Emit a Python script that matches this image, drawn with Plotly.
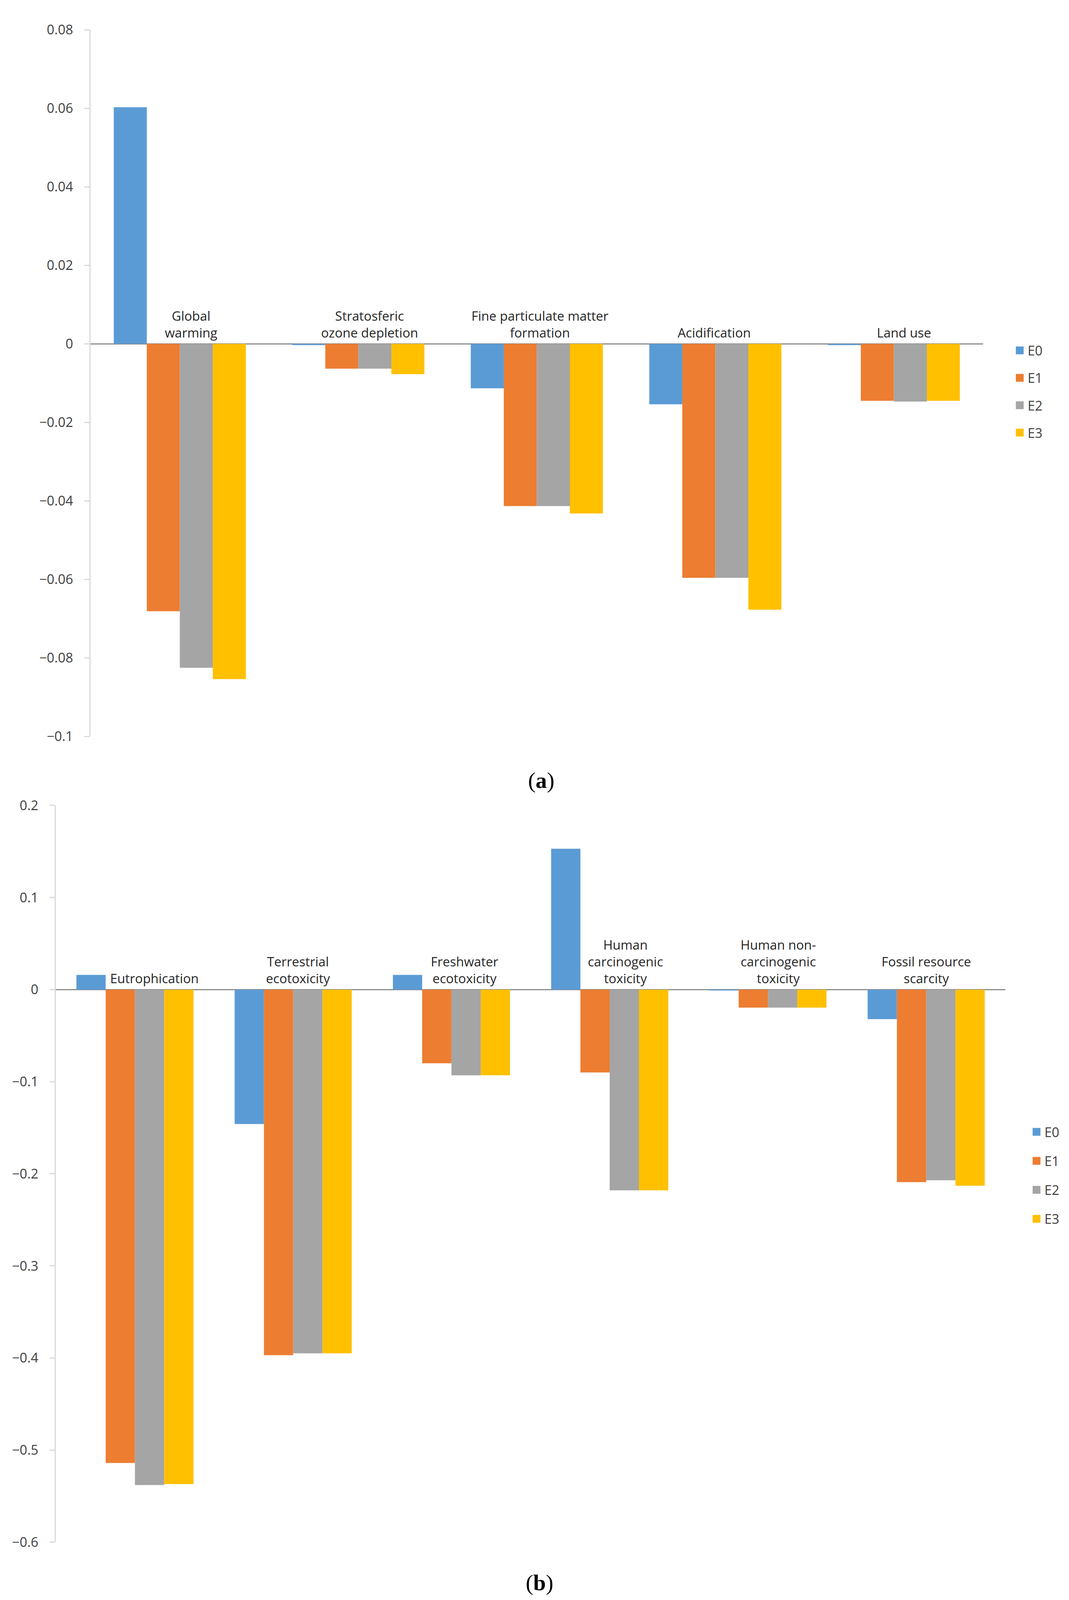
import plotly.graph_objects as go

# panel (a)
cats_a = ["Global<br>warming", "Stratosferic<br>ozone depletion",
          "Fine particulate matter<br>formation", "Acidification", "Land use"]
e0_a = [0.0603, -0.0003, -0.0113, -0.0154, -0.0003]
e1_a = [-0.0681, -0.0063, -0.0413, -0.0596, -0.0145]
e2_a = [-0.0825, -0.0063, -0.0413, -0.0596, -0.0147]
e3_a = [-0.0854, -0.0077, -0.0432, -0.0677, -0.0145]

# panel (b)
cats_b = ["Eutrophication", "Terrestrial<br>ecotoxicity", "Freshwater<br>ecotoxicity",
          "Human<br>carcinogenic<br>toxicity", "Human non-<br>carcinogenic<br>toxicity",
          "Fossil resource<br>scarcity"]
e0_b = [0.016, -0.146, 0.016, 0.153, -0.001, -0.032]
e1_b = [-0.514, -0.397, -0.080, -0.090, -0.0195, -0.209]
e2_b = [-0.538, -0.395, -0.093, -0.218, -0.0195, -0.207]
e3_b = [-0.537, -0.395, -0.093, -0.218, -0.0195, -0.213]

series_names = ["E0", "E1", "E2", "E3"]
colors = ["#5B9BD5", "#ED7D31", "#A5A5A5", "#FFC000"]

FONT = "Open Sans"
TICK_COL = "#404040"
LABEL_COL = "#262626"

# small nudges of the category labels (px), as in the original Excel export
shift_a = [29, 29, 8, -3, 26]
shift_b = [50, 12, 34, 40, 26, 0]

fig = go.Figure()

for name, vals, col in zip(series_names, [e0_a, e1_a, e2_a, e3_a], colors):
    fig.add_trace(go.Bar(x=cats_a, y=vals, name=name, marker=dict(color=col, line=dict(width=0)),
                         xaxis="x", yaxis="y", showlegend=False))
    # legend proxy, so the key squares come out a bit larger than plotly's bar key
    fig.add_trace(go.Scatter(x=[None], y=[None], mode="markers", name=name,
                             marker=dict(symbol="square", size=16, color=col, line=dict(color=col, width=4)),
                             xaxis="x", yaxis="y", legend="legend", legendgroup="a" + name))

for name, vals, col in zip(series_names, [e0_b, e1_b, e2_b, e3_b], colors):
    fig.add_trace(go.Bar(x=cats_b, y=vals, name=name, marker=dict(color=col, line=dict(width=0)),
                         xaxis="x2", yaxis="y2", showlegend=False))
    fig.add_trace(go.Scatter(x=[None], y=[None], mode="markers", name=name,
                             marker=dict(symbol="square", size=16, color=col, line=dict(color=col, width=4)),
                             xaxis="x2", yaxis="y2", legend="legend2", legendgroup="b" + name))

yaxis_style = dict(
    showgrid=False, showline=True, linecolor="#D9D9D9", linewidth=3,
    ticks="outside", ticklen=13, tickwidth=3, tickcolor="#D9D9D9",
    ticklabelstandoff=22,
    zeroline=True, zerolinecolor="#8C8C8C", zerolinewidth=3,
    tickfont=dict(family=FONT, size=34, color=TICK_COL),
)
xaxis_style = dict(showgrid=False, showline=False, showticklabels=False, ticks="", zeroline=False)

legend_style = dict(
    font=dict(family=FONT, size=34, color=TICK_COL),
    traceorder="grouped", bgcolor="rgba(0,0,0,0)",
    itemsizing="trace", xanchor="left", yanchor="top",
)

fig.update_layout(
    width=2737, height=4128,
    margin=dict(l=0, r=0, t=0, b=0),
    paper_bgcolor="white", plot_bgcolor="white",
    barmode="group", bargap=0.26, bargroupgap=0,
    xaxis=dict(domain=[0.0818, 0.9167], anchor="y", **xaxis_style),
    yaxis=dict(domain=[0.5460, 0.9891], anchor="x", range=[-0.1, 0.08], dtick=0.02, **yaxis_style),
    xaxis2=dict(domain=[0.0493, 0.9375], anchor="y2", **xaxis_style),
    yaxis2=dict(domain=[0.0407, 0.5027], anchor="x2", range=[-0.6, 0.2], dtick=0.1, **yaxis_style),
    legend=dict(x=0.9437, y=0.7951, tracegroupgap=23, **legend_style),
    legend2=dict(x=0.9594, y=0.3050, tracegroupgap=27, **legend_style),
)

# category labels sit just above the zero line
annotations = []
for c, dx in zip(cats_a, shift_a):
    annotations.append(dict(x=c, y=0, xref="x", yref="y", text=c, showarrow=False,
                            xanchor="center", yanchor="bottom", xshift=dx, yshift=4,
                            font=dict(family=FONT, size=33, color=LABEL_COL)))
for c, dx in zip(cats_b, shift_b):
    annotations.append(dict(x=c, y=0, xref="x2", yref="y2", text=c, showarrow=False,
                            xanchor="center", yanchor="bottom", xshift=dx, yshift=4,
                            font=dict(family=FONT, size=33, color=LABEL_COL)))

# panel letters
annotations.append(dict(x=0.5035, y=0.5184, xref="paper", yref="paper", text="(<b>a</b>)",
                        showarrow=False, xanchor="center", yanchor="middle",
                        font=dict(family="Liberation Serif", size=58, color="black")))
annotations.append(dict(x=0.5020, y=0.0153, xref="paper", yref="paper", text="(<b>b</b>)",
                        showarrow=False, xanchor="center", yanchor="middle",
                        font=dict(family="Liberation Serif", size=58, color="black")))

fig.update_layout(annotations=annotations)

fig.write_html("out.html")
